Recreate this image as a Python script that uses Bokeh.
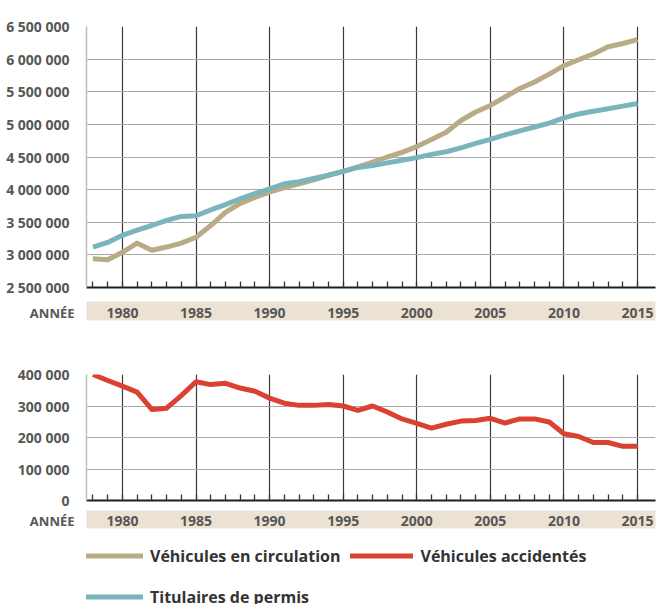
from bokeh.plotting import figure
from bokeh.models import Range1d, FixedTicker, LinearAxis, Label, Legend, LegendItem
from bokeh.layouts import column
from bokeh.embed import file_html
from bokeh.resources import INLINE

# ---------------- data ----------------
years = list(range(1978, 2016))
vehicules_circulation = [
    2940000, 2925000, 3040000, 3180000, 3070000, 3120000, 3180000, 3270000,
    3450000, 3650000, 3790000, 3880000, 3960000, 4030000, 4090000, 4150000,
    4220000, 4280000, 4350000, 4420000, 4500000, 4570000, 4660000, 4770000,
    4880000, 5060000, 5190000, 5290000, 5420000, 5550000, 5650000, 5770000,
    5900000, 5990000, 6080000, 6190000, 6240000, 6300000]
titulaires_permis = [
    3120000, 3190000, 3300000, 3380000, 3450000, 3530000, 3590000, 3600000,
    3690000, 3770000, 3860000, 3940000, 4010000, 4090000, 4120000, 4170000,
    4220000, 4280000, 4340000, 4370000, 4410000, 4450000, 4490000, 4540000,
    4580000, 4640000, 4710000, 4770000, 4840000, 4900000, 4960000, 5020000,
    5100000, 5160000, 5200000, 5240000, 5280000, 5320000]
vehicules_accidentes = [
    400000, 381000, 363000, 344000, 289000, 293000, 333000, 377000,
    368000, 372000, 357000, 347000, 325000, 309000, 302000, 302000,
    305000, 300000, 286000, 300000, 281000, 259000, 245000, 230000,
    242000, 252000, 254000, 261000, 246000, 259000, 259000, 249000,
    212000, 203000, 184000, 184000, 172000, 172000]

label_years = [1980, 1985, 1990, 1995, 2000, 2005, 2010, 2015]
top_ticks = [2500000, 3000000, 3500000, 4000000, 4500000, 5000000, 5500000, 6000000, 6500000]
top_tick_labels = ["2 500 000", "3 000 000", "3 500 000", "4 000 000", "4 500 000",
                   "5 000 000", "5 500 000", "6 000 000", "6 500 000"]
bottom_ticks = [0, 100000, 200000, 300000, 400000]
bottom_tick_labels = ["0", "100 000", "200 000", "300 000", "400 000"]
axis_word = "ANNÉE"
legend_labels = ["Véhicules en circulation", "Véhicules accidentés", "Titulaires de permis"]

# ---------------- style ----------------
FONT = "Open Sans"
GRAY = "#575757"
BAND = "#ebe2d3"
TAN = "#b9ab86"
TEAL = "#7bb5bc"
RED = "#db4133"
X0, X1 = 1977.56, 2016.22
W = 658


def make_fig(height, yr, yticks, ylabels, b_left, b_right, b_top, b_bottom, tick_gap, band_standoff):
    p = figure(width=W, height=height, x_range=Range1d(X0, X1), y_range=Range1d(*yr),
               output_backend="svg", toolbar_location=None,
               min_border_left=b_left, min_border_right=b_right,
               min_border_top=b_top, min_border_bottom=b_bottom)
    p.outline_line_color = None
    # y axis
    ya = p.yaxis[0]
    ya.ticker = FixedTicker(ticks=yticks)
    ya.major_label_overrides = {t: l for t, l in zip(yticks, ylabels)}
    ya.axis_line_color = "#bdbdbd"
    ya.axis_line_width = 1.5
    ya.major_tick_line_color = None
    ya.minor_tick_line_color = None
    ya.major_label_standoff = 11
    ya.major_label_text_font = FONT
    ya.major_label_text_font_style = "bold"
    ya.major_label_text_font_size = "14px"
    ya.major_label_text_color = GRAY
    # grids
    p.ygrid.ticker = FixedTicker(ticks=yticks)
    p.ygrid.grid_line_color = "#a8a8a8"
    p.ygrid.grid_line_width = 1.2
    p.xgrid.ticker = FixedTicker(ticks=label_years)
    p.xgrid.grid_line_color = "#3a3a3a"
    p.xgrid.grid_line_width = 1.2
    # x axis: small yearly ticks pointing up, an empty gap below, no labels
    xa = p.xaxis[0]
    xa.ticker = FixedTicker(ticks=label_years, minor_ticks=years)
    xa.axis_line_color = "#1e1e1e"
    xa.axis_line_width = 2
    xa.minor_tick_in = 6
    xa.minor_tick_out = 0
    xa.minor_tick_line_color = "#333333"
    xa.minor_tick_line_width = 1.3
    xa.major_tick_in = 0
    xa.major_tick_out = tick_gap
    xa.major_tick_line_color = "white"
    xa.major_tick_line_alpha = 0.01
    xa.major_label_text_color = None
    xa.major_label_standoff = 0
    xa.major_label_text_font_size = "1px"
    # band axis with year labels
    band = LinearAxis(ticker=FixedTicker(ticks=label_years))
    band.axis_line_color = None
    band.major_tick_line_color = None
    band.minor_tick_line_color = None
    band.major_tick_in = 0
    band.major_tick_out = 0
    band.major_label_standoff = band_standoff
    band.major_label_text_font = FONT
    band.major_label_text_font_style = "bold"
    band.major_label_text_font_size = "14px"
    band.major_label_text_color = GRAY
    band.background_fill_color = BAND
    p.add_layout(band, "below")
    return p


# ---------------- top chart ----------------
p1 = make_fig(331, (2500000, 6500000), top_ticks, top_tick_labels, 86, 2, 26, 44, 14, 6)
p1.line(years, vehicules_circulation, line_color=TAN, line_width=5, line_join="round")
p1.line(years, titulaires_permis, line_color=TEAL, line_width=5, line_join="round")
px_year1 = 570 / (X1 - X0)
px_val1 = 261 / 4000000
p1.add_layout(Label(x=X0 - 12 / px_year1, y=2500000 - 25 / px_val1, text=axis_word,
                    text_align="right", text_baseline="middle", text_font=FONT,
                    text_font_style="bold", text_font_size="13px", text_color=GRAY), "above")

# ---------------- bottom chart ----------------
p2 = make_fig(205, (0, 400000), bottom_ticks, bottom_tick_labels, 84, 3, 43, 36, 10, 5)
p2.line(years, vehicules_accidentes, line_color=RED, line_width=5, line_join="round")
px_year2 = 570 / (X1 - X0)
px_val2 = 126 / 400000
p2.add_layout(Label(x=X0 - 12 / px_year2, y=0 - 20 / px_val2, text=axis_word,
                    text_align="right", text_baseline="middle", text_font=FONT,
                    text_font_style="bold", text_font_size="13px", text_color=GRAY), "above")

# ---------------- legend ----------------
p3 = figure(width=W, height=68, x_range=Range1d(0, 1), y_range=Range1d(0, 1),
            output_backend="svg", toolbar_location=None,
            x_axis_location=None, y_axis_location=None,
            min_border_left=0, min_border_right=0, min_border_top=0, min_border_bottom=0)
p3.grid.visible = False
p3.outline_line_color = None
# same series, outside this panel's ranges: only their legend glyphs show
r_c = p3.line(years, vehicules_circulation, line_color=TAN, line_width=5, line_cap="round")
r_a = p3.line(years, vehicules_accidentes, line_color=RED, line_width=5, line_cap="round")
r_t = p3.line(years, titulaires_permis, line_color=TEAL, line_width=5, line_cap="round")
legend = Legend(items=[LegendItem(label=legend_labels[0], renderers=[r_c]),
                       LegendItem(label=legend_labels[1], renderers=[r_a]),
                       LegendItem(label=legend_labels[2], renderers=[r_t])],
                orientation="horizontal", ncols=2, location=(-6, -8),
                glyph_width=63, glyph_height=31, label_standoff=7, spacing=10,
                padding=0, margin=0, border_line_color=None, background_fill_alpha=0,
                label_text_font=FONT, label_text_font_style="bold",
                label_text_font_size="16px", label_text_color="#333333")
p3.add_layout(legend, "center")

layout = column(p1, p2, p3, spacing=0)
open("out.html", "w").write(file_html(layout, INLINE))
